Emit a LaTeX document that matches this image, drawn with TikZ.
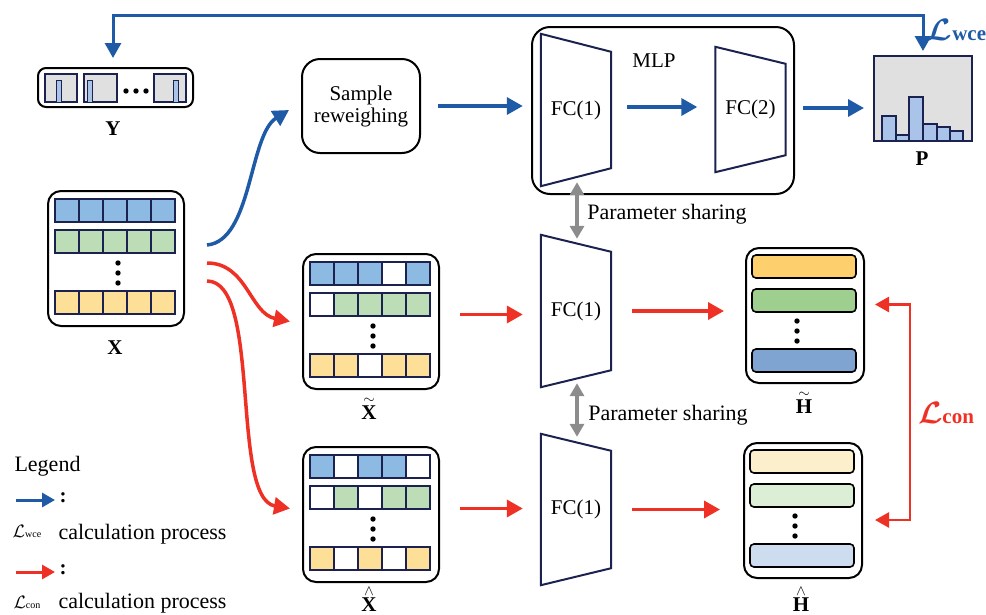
\documentclass[tikz,border=0pt]{standalone}
\usepackage{fix-cm}
\usepackage{fontspec}
\setmainfont{Liberation Serif}
\usetikzlibrary{arrows.meta,calc}

\definecolor{wceblue}{HTML}{1F5AA6}
\definecolor{conred}{HTML}{EE3124}
\definecolor{shgray}{HTML}{8C8C8C}
\definecolor{navy}{HTML}{1C2250}
\definecolor{cb}{HTML}{8DBAE2}
\definecolor{cg}{HTML}{BCDDB5}
\definecolor{cy}{HTML}{FEDF98}
\definecolor{cw}{HTML}{FFFFFF}
\definecolor{pgray}{HTML}{E0E0E0}
\definecolor{pbar}{HTML}{A9C4E8}
\definecolor{hta}{HTML}{FDD06D}
\definecolor{htb}{HTML}{9FCF8F}
\definecolor{htc}{HTML}{80A4D2}
\definecolor{hha}{HTML}{FCEFCB}
\definecolor{hhb}{HTML}{DCEED6}
\definecolor{hhc}{HTML}{CDDDEF}

% trapezoid round an FC node
\newcommand{\trapz}[2]{\draw[trap] (#1.north west) -- ([yshift=-#2pt]#1.north east) -- ([yshift=#2pt]#1.south east) -- (#1.south west) -- cycle;}

% input matrix: name, x, y, row colours
\newcommand{\datamat}[6]{%
  \node[frame, minimum width=136pt, minimum height=135pt, anchor=north west] (#1) at (#2,#3) {};
  \foreach \c [count=\i from 0] in {#4} \draw[cell, fill=\c] ({#2+8+24*\i},{#3+9}) rectangle ++(24,23);
  \foreach \c [count=\i from 0] in {#5} \draw[cell, fill=\c] ({#2+8+24*\i},{#3+40}) rectangle ++(24,23);
  \foreach \c [count=\i from 0] in {#6} \draw[cell, fill=\c] ({#2+8+24*\i},{#3+101}) rectangle ++(24,23);
  \foreach \d in {73,83,93} \fill ({#2+71},{#3+\d}) circle (2.7pt);
}

% feature box: name, x, y, bar colours
\newcommand{\featbox}[6]{%
  \node[frame, minimum width=118pt, minimum height=135pt, anchor=north west] (#1) at (#2,#3) {};
  \foreach \c/\o in {#4/8,#5/42,#6/102} \draw[bar, fill=\c] ({#2+7},{#3+\o}) rectangle ++(104,23);
  \foreach \d in {74,84,94} \fill ({#2+52},{#3+\d}) circle (2.7pt);
}

\newcommand{\lossname}[1]{{\fontsize{31}{31}\selectfont\boldmath$\mathcal{L}$}\textbf{#1}}
\newcommand{\legloss}[1]{{\fontsize{18}{18}\selectfont$\mathcal{L}$}{\fontsize{10}{10}\selectfont #1}}

\begin{document}
\begin{tikzpicture}[x=1pt, y=-1pt,
    every node/.style={font=\fontsize{21}{25}\selectfont},
    frame/.style={draw, line width=2pt, rounded corners=13pt, inner sep=0pt},
    cell/.style={draw=navy, line width=1.5pt},
    bar/.style={draw, line width=1.6pt, rounded corners=4pt},
    trap/.style={draw=navy, line width=2pt},
    fcnode/.style={inner sep=0pt, minimum width=70pt},
    arr/.style={line width=3.5pt, -{Triangle[length=16pt,width=17pt]}},
    barr/.style={arr, draw=wceblue},
    rarr/.style={arr, draw=conred},
    share/.style={draw=shgray, line width=3.5pt, {Triangle[length=13pt,width=14pt]}-{Triangle[length=13pt,width=14pt]}},
    lbl/.style={font=\fontsize{21}{25}\selectfont\bfseries, anchor=base},
    wide/.style={font=\fontsize{22}{26}\selectfont}
]
\useasboundingbox (0,0) rectangle (986,614);

% labels Y
\node[frame, rounded corners=8pt, minimum width=155pt, minimum height=39pt] (ybox) at (115.5,87.5) {};
\foreach \xa/\xb in {45/77,84/117,154/186} \draw[cell, fill=pgray] (\xa,74) rectangle (\xb,102);
\foreach \xa in {56,87,173} \draw[cell, line width=1pt, fill=pbar] (\xa,80) rectangle ++(5,22);
\foreach \xa in {126,136,146} \fill (\xa,91) circle (2.7pt);
\node[lbl] (ylab) at (113,135) {Y};

% input and its two views
\datamat{xin}{47}{190}{cb,cb,cb,cb,cb}{cg,cg,cg,cg,cg}{cy,cy,cy,cy,cy}
\node[lbl] (xlab) at (115,354) {X};
\datamat{xtil}{302}{253}{cb,cb,cb,cw,cb}{cw,cg,cg,cg,cg}{cy,cy,cw,cy,cy}
\node[lbl] (xtlab) at (369,419) {$\stackrel{\sim}{\mbox{\bfseries X}}$};
\datamat{xhat}{302}{446}{cb,cw,cb,cb,cw}{cw,cg,cw,cg,cg}{cy,cw,cy,cw,cy}
\node[lbl] (xhlab) at (369,611) {$\stackrel{\wedge}{\mbox{\bfseries X}}$};

% reweighing and MLP
\node[frame, rounded corners=18pt, minimum width=118pt, minimum height=94pt, align=center] (samp) at (361,106) {Sample\\[-3pt]reweighing};
\node[frame, rounded corners=18pt, minimum width=262pt, minimum height=167pt] (mlp) at (663,110.5) {};
\node (mlplab) at (654,61) {MLP};
\node[fcnode, minimum height=152pt] (fcA) at (576,110) {FC(1)};
\trapz{fcA}{18}
\node[fcnode, minimum height=125pt] (fcT) at (750.5,109.5) {FC(2)};
\trapz{fcT}{17}
\node[fcnode, minimum height=152pt] (fcB) at (576,311) {FC(1)};
\trapz{fcB}{17}
\node[fcnode, minimum height=151pt] (fcC) at (576,509.5) {FC(1)};
\trapz{fcC}{17}

% output P
\node[draw=navy, line width=2pt, fill=pgray, minimum width=98pt, minimum height=85pt, inner sep=0pt] (pbox) at (923,98.5) {};
\foreach \xa/\xb/\yt in {882/896/116,896/909/135,909/923/97,923/937/124,937/950/127,950/963/131}
  \draw[cell, fill=pbar] (\xa,141) rectangle (\xb,\yt);
\node[lbl] (plab) at (922,165) {P};

% representations
\featbox{htil}{745}{247}{hta}{htb}{htc}
\node[lbl] (htlab) at (804,413) {$\stackrel{\sim}{\mbox{\bfseries H}}$};
\featbox{hhat}{743}{442}{hha}{hhb}{hhc}
\node[lbl] (hhlab) at (801,611) {$\stackrel{\wedge}{\mbox{\bfseries H}}$};

% wce path
\draw[barr] ([shift={(22,-13.5)}]xin.east) .. controls +(45,-4) and +(-40,25) .. ([shift={(-12,4)}]samp.west);
\draw[barr, shorten <=17pt, shorten >=18pt] (samp.east) -- (samp.east -| fcA.west);
\draw[barr, shorten <=16pt, shorten >=18pt] ([yshift=3pt]fcA.east) -- ([yshift=3pt]fcA.east -| fcT.west);
\draw[barr, shorten <=17pt, shorten >=9pt] ([yshift=1.5pt]fcT.east) -- ([yshift=1.5pt]fcT.east -| pbox.west);
\coordinate (loopl) at (113,15);
\draw[wceblue, line width=3pt, {Triangle[length=15pt,width=16pt]}-{Triangle[length=15pt,width=16pt]}, shorten <=9pt, shorten >=4pt]
  (ybox.north -| loopl) -- (loopl) -| (pbox.north);
\node[wceblue] (lwce) at (957,30) {\lossname{wce}};

% con path
\draw[rarr] ([shift={(22,4.5)}]xin.east) .. controls +(40,0) and +(-40,-8) .. ([xshift=-12pt]xtil.west);
\draw[rarr] ([shift={(22,22.5)}]xin.east) .. controls +(55,0) and +(-60,-10) .. ([shift={(-12,-6)}]xhat.west);
\draw[rarr, shorten <=20pt, shorten >=18pt] ([yshift=7pt]xtil.east) -- ([yshift=7pt]xtil.east -| fcB.west);
\draw[rarr, shorten <=21pt, shorten >=21pt] (fcB.east) -- (fcB.east -| htil.west);
\draw[rarr, shorten <=20pt, shorten >=18pt] ([yshift=6pt]xhat.east) -- ([yshift=6pt]xhat.east -| fcC.west);
\draw[rarr, shorten <=21pt, shorten >=23pt] (fcC.east) -- (fcC.east -| hhat.west);
\draw[conred, line width=2.5pt, {Triangle[length=14pt,width=15pt]}-{Triangle[length=14pt,width=15pt]}, shorten <=10pt, shorten >=12pt]
  ([yshift=11pt]htil.east) -- ++(45,0) |- ([yshift=-9.5pt]hhat.east);
\node[conred] (lcon) at (946,413) {\lossname{con}};

% parameter sharing
\draw[share] ([shift={(1,-4)}]fcA.south) -- ([shift={(1,4)}]fcB.north);
\node[wide] (sh1) at (667,214) {Parameter sharing};
\draw[share] ([shift={(1,-4)}]fcB.south) -- ([shift={(1,3)}]fcC.north);
\node[wide] (sh2) at (668,415) {Parameter sharing};

% legend
\node[wide, anchor=west] (leg) at (11,466) {Legend};
\coordinate (lgb) at (16,500);
\draw[barr, line width=3pt, -{Triangle[length=13pt,width=14pt]}] (lgb) -- ++(39,0);
\node (lgbc) at (63,498) {\textbf{:}};
\node (lgbl) at (27,531) {\legloss{wce}};
\node[wide, anchor=west] (lgbt) at (55,534) {calculation process};
\coordinate (lgr) at (16,572);
\draw[rarr, line width=3pt, -{Triangle[length=13pt,width=14pt]}] (lgr) -- ++(39,0);
\node (lgrc) at (63,570) {\textbf{:}};
\node (lgrl) at (27,602) {\legloss{con}};
\node[wide, anchor=west] (lgrt) at (55,603) {calculation process};
\end{tikzpicture}
\end{document}
